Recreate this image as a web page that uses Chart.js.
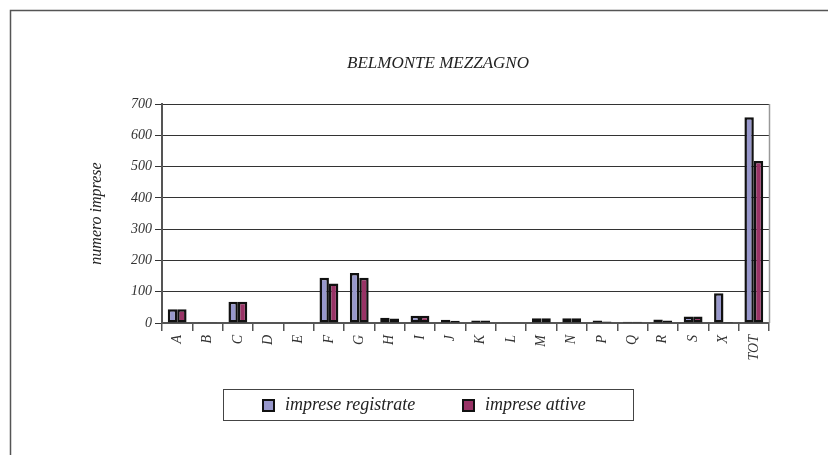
<!DOCTYPE html>
<html>
<head>
<meta charset="utf-8">
<title>Belmonte Mezzagno</title>
<script src="https://cdn.jsdelivr.net/npm/chart.js@4/dist/chart.umd.min.js"></script>
<style>
  body { margin: 0; background: #fff; }
  #grafico { display: block; }
</style>
</head>
<body>
<canvas id="grafico" width="828" height="455"></canvas>
<script>
// dati
const categorie = ['A', 'B', 'C', 'D', 'E', 'F', 'G', 'H', 'I', 'J', 'K', 'L', 'M', 'N', 'P', 'Q', 'R', 'S', 'X', 'TOT'];
const impreseRegistrate = [44, 2, 68, 0, 2, 145, 160, 17, 23, 10, 8, 2, 15, 15, 8, 4, 11, 21, 95, 658];
const impreseAttive = [44, 2, 68, 0, 2, 126, 145, 14, 23, 7, 8, 2, 15, 15, 5, 4, 8, 21, 3, 518];
const tickY = [0, 100, 200, 300, 400, 500, 600, 700];
const titolo = 'BELMONTE MEZZAGNO';
const titoloAsseY = 'numero imprese';

const FONT = "'Liberation Serif', 'Times New Roman', serif";

// cornice, titolo, bordo destro dell'area e legenda
const decorazioni = {
  id: 'decorazioni',
  afterDraw(chart) {
    const ctx = chart.ctx;
    const area = chart.chartArea;
    ctx.save();
    // cornice esterna
    ctx.strokeStyle = '#555';
    ctx.lineWidth = 1.5;
    ctx.beginPath();
    ctx.moveTo(10.5, 455);
    ctx.lineTo(10.5, 10.5);
    ctx.lineTo(828, 10.5);
    ctx.stroke();
    // bordo destro area grafico
    ctx.strokeStyle = '#999';
    ctx.lineWidth = 1.5;
    ctx.beginPath();
    ctx.moveTo(area.right + 0.5, area.top);
    ctx.lineTo(area.right + 0.5, area.bottom);
    ctx.stroke();
    // titolo
    ctx.fillStyle = '#222';
    ctx.font = 'italic 17px ' + FONT;
    ctx.textAlign = 'center';
    ctx.textBaseline = 'middle';
    ctx.fillText(titolo, 438, 64);
    // legenda
    ctx.strokeStyle = '#444';
    ctx.lineWidth = 1;
    ctx.strokeRect(223.5, 389.5, 410, 31);
    const posX = [263, 463];
    chart.data.datasets.forEach((ds, i) => {
      ctx.fillStyle = ds.backgroundColor;
      ctx.fillRect(posX[i], 400, 11, 11);
      ctx.strokeStyle = '#111';
      ctx.lineWidth = 2;
      ctx.strokeRect(posX[i], 400, 11, 11);
      ctx.fillStyle = '#222';
      ctx.font = 'italic 18px ' + FONT;
      ctx.textAlign = 'left';
      ctx.fillText(ds.label, posX[i] + 22, 405);
    });
    ctx.restore();
  }
};

document.addEventListener('DOMContentLoaded', function() {
  const ctx = document.getElementById('grafico').getContext('2d');
  new Chart(ctx, {
    type: 'bar',
    data: {
      labels: categorie,
      datasets: [{
        label: 'imprese registrate',
        data: impreseRegistrate,
        backgroundColor: '#9898CC',
        borderColor: '#111',
        borderWidth: 2.5,
        borderSkipped: false
      }, {
        label: 'imprese attive',
        data: impreseAttive,
        backgroundColor: '#993366',
        borderColor: '#111',
        borderWidth: 2.5,
        borderSkipped: false
      }]
    },
    options: {
      responsive: false,
      animation: false,
      categoryPercentage: 0.62,
      barPercentage: 1.0,
      layout: { padding: { left: 80, right: 59, top: 104, bottom: 92 } },
      plugins: {
        legend: { display: false },
        title: { display: false },
        tooltip: { enabled: false }
      },
      scales: {
        x: {
          grid: { display: true, drawOnChartArea: false, offset: true, tickLength: 8, color: '#555', lineWidth: 1.5 },
          border: { color: '#555', width: 2 },
          ticks: {
            color: '#333',
            font: { family: FONT, size: 14, style: 'italic' },
            minRotation: 90,
            maxRotation: 90,
            autoSkip: false,
            padding: 4
          },
          afterFit: s => { s.height = 40; }
        },
        y: {
          min: 0,
          max: 700,
          afterBuildTicks: s => { s.ticks = tickY.map(v => ({ value: v })); },
          grid: { color: '#333', lineWidth: 1, tickLength: 7 },
          border: { color: '#555', width: 2 },
          ticks: {
            color: '#333',
            font: { family: FONT, size: 14, style: 'italic' },
            padding: 3
          },
          title: {
            display: true,
            text: titoloAsseY,
            color: '#222',
            font: { family: FONT, size: 16, style: 'italic' },
            padding: { top: 7, bottom: 0 }
          },
          afterFit: s => { s.width = 82; }
        }
      }
    },
    plugins: [decorazioni]
  });
});
</script>
</body>
</html>
